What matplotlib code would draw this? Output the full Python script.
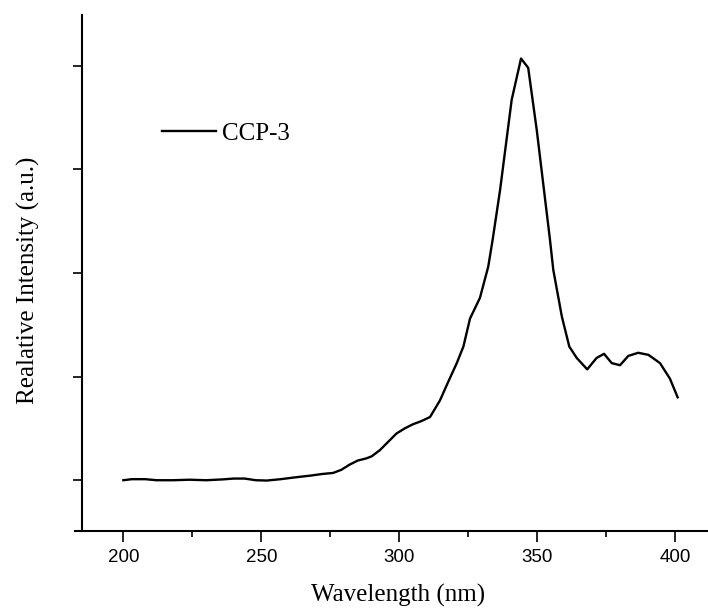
import matplotlib
matplotlib.use("Agg")
import matplotlib.pyplot as plt
from matplotlib.ticker import MultipleLocator, NullFormatter

wavelength = [200, 203, 208, 212, 218, 224, 230, 236, 240, 244, 248, 252, 257,
              263, 268, 272, 276, 279, 282, 285, 288, 290, 293, 296, 299, 302,
              305, 308, 311.2, 314.8, 317.8, 320.9, 323.3, 325.7, 329.3, 332.3,
              333.9, 336.6, 340.8, 344.2, 346.8, 349.9, 354.7, 355.9, 359.0,
              361.7, 364.4, 368.2, 371.6, 374.3, 377.1, 380.1, 383.1, 386.7,
              390.4, 394.6, 398.2, 401.0]
intensity = [0.0, 0.01, 0.01, 0.0, 0.0, 0.005, 0.0, 0.008, 0.016, 0.016, 0.0,
             -0.003, 0.01, 0.03, 0.045, 0.06, 0.07, 0.10, 0.15, 0.19, 0.21,
             0.23, 0.29, 0.37, 0.45, 0.50, 0.54, 0.57, 0.61, 0.77, 0.95, 1.13,
             1.29, 1.56, 1.76, 2.06, 2.32, 2.80, 3.67, 4.07, 3.98, 3.38, 2.32,
             2.03, 1.58, 1.29, 1.18, 1.07, 1.18, 1.22, 1.13, 1.11, 1.20, 1.23,
             1.21, 1.13, 0.98, 0.80]
x_ticks = [200, 250, 300, 350, 400]
y_ticks = [0, 1, 2, 3, 4]
series_label = "CCP-3"

W, H = 708, 610
fig = plt.figure(figsize=(W / 100, H / 100), dpi=100)
ax = fig.add_axes([82 / W, (H - 531) / H, 626 / W, 516 / H])

line, = ax.plot(wavelength, intensity, color="black", lw=1.7, label=series_label)

ax.set_xlim(185, 412)
ax.set_ylim(-0.49, 4.49)
ax.set_xticks(x_ticks)
ax.xaxis.set_minor_locator(MultipleLocator(25))
ax.set_yticks(y_ticks)
ax.yaxis.set_major_formatter(NullFormatter())

for s in ["top", "right"]:
    ax.spines[s].set_visible(False)
for s in ["left", "bottom"]:
    ax.spines[s].set_linewidth(1.5)
ax.spines["bottom"].set_bounds(182.5, 412)

ax.tick_params(axis="x", which="major", direction="out", length=8, width=1.2,
               pad=5, labelsize=13.5)
ax.tick_params(axis="x", which="minor", direction="out", length=4.5, width=1.2)
ax.tick_params(axis="y", which="major", direction="out", length=6.5, width=1.2)
for lab in ax.get_xticklabels():
    lab.set_fontfamily("Liberation Sans")

serif = "Liberation Serif"
fig.text(398 / W, 1 - 595 / H, "Wavelength (nm)", ha="center", va="center",
         fontsize=18, family=serif)
fig.text(28 / W, 1 - 280 / H, "Realative Intensity (a.u.)", ha="center",
         va="center", rotation=90, fontsize=18, family=serif)

ax.legend(handles=[line], loc="center left", frameon=False,
          bbox_to_anchor=(162 / W, 1 - 134 / H), bbox_transform=fig.transFigure,
          borderpad=0, borderaxespad=0, handlelength=2.15, handletextpad=0.25,
          prop={"family": serif, "size": 18})

fig.savefig("out.png", dpi=100)
